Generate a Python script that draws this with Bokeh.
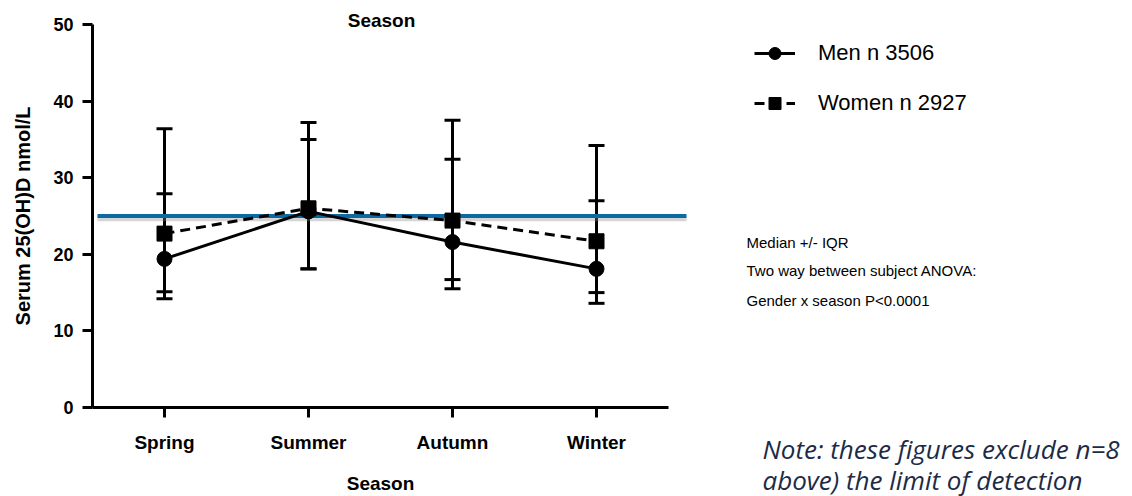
from bokeh.plotting import figure
from bokeh.models import (ColumnDataSource, Range1d, Whisker, TeeHead,
                          Legend, LegendItem, Label, FixedTicker)
from bokeh.embed import file_html
from bokeh.resources import INLINE

# ---- data ----
seasons = ["Spring", "Summer", "Autumn", "Winter"]
men_median = [19.4, 25.6, 21.6, 18.1]
men_q1 = [14.2, 18.1, 15.5, 13.6]
men_q3 = [27.9, 35.0, 32.4, 27.0]
women_median = [22.7, 26.0, 24.4, 21.7]
women_q1 = [15.1, 18.1, 16.7, 15.0]
women_q3 = [36.4, 37.2, 37.5, 34.2]
threshold = 25
y_ticks = [0, 10, 20, 30, 40, 50]

FONT = "Liberation Sans"
W, H = 1132, 496
xpos = list(range(1, len(seasons) + 1))

# layout: pixel geometry of the plotting area (styling only)
X1_PX, X_STEP = 164, 144          # pixel of first category, pixels per category
Y0_PX, Y50_PX = 407, 24           # pixel of y=0 and y=50
ppu = (Y0_PX - Y50_PX) / 50.0

men_src = ColumnDataSource(dict(x=xpos, med=men_median, lo=men_q1, hi=men_q3))
wom_src = ColumnDataSource(dict(x=xpos, med=women_median, lo=women_q1, hi=women_q3))

p = figure(width=W, height=H, output_backend="svg", toolbar_location=None,
           x_range=Range1d(1 - X1_PX / X_STEP, 1 + (W - X1_PX) / X_STEP),
           y_range=Range1d(-(H - Y0_PX) / ppu, Y0_PX / ppu),
           min_border_left=0, min_border_right=0, min_border_top=0, min_border_bottom=0)
p.extra_x_ranges = {"px": Range1d(0, W)}
p.extra_y_ranges = {"py": Range1d(H, 0)}

p.outline_line_color = None
p.xgrid.grid_line_color = None
p.ygrid.grid_line_color = None
p.background_fill_color = "white"
p.border_fill_color = "white"

# axes
for ax in (p.xaxis[0], p.yaxis[0]):
    ax.axis_line_width = 3
    ax.axis_line_color = "black"
    ax.major_tick_line_width = 3
    ax.major_tick_line_color = "black"
    ax.major_tick_out = 10
    ax.major_tick_in = 0
    ax.minor_tick_line_color = None
    ax.major_label_text_font = FONT
    ax.major_label_text_font_style = "bold"
    ax.major_label_text_color = "black"
    ax.axis_label_text_font = FONT
    ax.axis_label_text_font_style = "bold"
    ax.axis_label_text_font_size = "20px"
    ax.axis_label_text_color = "black"

p.yaxis.fixed_location = 0.5
p.yaxis.bounds = (0, 50)
p.yaxis.ticker = FixedTicker(ticks=y_ticks)
p.yaxis.major_label_text_font_size = "18px"
p.yaxis.axis_label = "Serum 25(OH)D nmol/L"
p.yaxis.axis_label_standoff = 16
p.yaxis.major_label_standoff = 9

p.xaxis.fixed_location = 0
p.xaxis.bounds = (0.5, len(seasons) + 0.5)
p.xaxis.ticker = FixedTicker(ticks=xpos)
p.xaxis.major_label_overrides = {i: s for i, s in zip(xpos, seasons)}
p.xaxis.major_label_text_font_size = "19px"
p.xaxis.axis_label = "Season"
p.xaxis.axis_label_text_font_size = "19px"
p.xaxis.major_label_standoff = 14
p.xaxis.axis_label_standoff = 17

# reference line at 25 (with soft shadow)
p.segment(x0=[97], x1=[686], y0=[threshold - 0.35], y1=[threshold - 0.35], x_range_name="px",
          line_color="#888888", line_alpha=0.35, line_width=5)
p.segment(x0=[97], x1=[686], y0=[threshold], y1=[threshold], x_range_name="px",
          line_color="#0b6aa3", line_width=4)

# error bars
for src in (men_src, wom_src):
    w = Whisker(source=src, base="x", upper="hi", lower="lo",
                line_width=3, line_color="black",
                upper_head=TeeHead(size=16, line_width=3, line_color="black"),
                lower_head=TeeHead(size=16, line_width=3, line_color="black"))
    p.add_layout(w)

# series
men_line = p.line("x", "med", source=men_src, line_color="black", line_width=3)
men_pts = p.scatter("x", "med", source=men_src, marker="circle", size=15,
                    fill_color="black", line_color="black")
wom_line = p.line("x", "med", source=wom_src, line_color="black", line_width=3,
                  line_dash="10 6")
wom_pts = p.scatter("x", "med", source=wom_src, marker="square", size=15,
                    fill_color="black", line_color="black")

legend = Legend(items=[LegendItem(label="Men n 3506", renderers=[men_line, men_pts]),
                       LegendItem(label="Women n 2927", renderers=[wom_line, wom_pts])],
                location=(754, H - 118), orientation="vertical",
                glyph_width=41, glyph_height=30, label_height=30, spacing=20,
                label_standoff=23, padding=0, margin=0,
                border_line_color=None, background_fill_alpha=0,
                label_text_font=FONT, label_text_font_size="22px", label_text_color="black")
p.add_layout(legend, "center")

# title
p.add_layout(Label(x=381, y=20, x_range_name="px", y_range_name="py", text="Season",
                   text_align="center", text_baseline="middle", text_font=FONT,
                   text_font_style="bold", text_font_size="19px", text_color="black"))

# annotations
notes = ["Median +/- IQR", "Two way between subject ANOVA:", "Gender x season P<0.0001"]
note_y = [242, 270, 300]
for t, yy in zip(notes, note_y):
    p.add_layout(Label(x=746, y=yy, x_range_name="px", y_range_name="py", text=t,
                       text_align="left", text_baseline="middle", text_font=FONT,
                       text_font_size="15px", text_color="black"))

foot = ["Note: these figures exclude n=8", "above) the limit of detection"]
foot_y = [448, 479]
for t, yy in zip(foot, foot_y):
    p.add_layout(Label(x=762, y=yy, x_range_name="px", y_range_name="py", text=t,
                       text_align="left", text_baseline="alphabetic", text_font="Open Sans",
                       text_font_style="italic", text_font_size="26px", text_color="#1c2b47"))

open("out.html", "w").write(file_html(p, INLINE))
